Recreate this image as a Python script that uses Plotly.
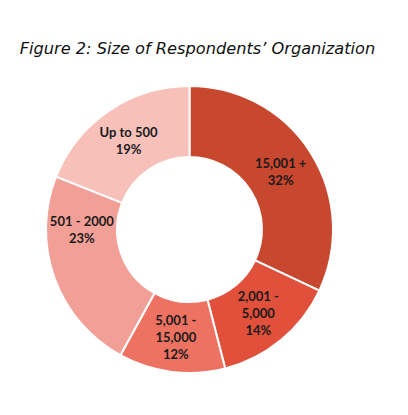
import plotly.graph_objects as go

categories = ["15,001 +", "2,001 - 5,000", "5,001 - 15,000", "501 - 2000", "Up to 500"]
display_labels = ["15,001 +", "2,001 -<br>5,000", "5,001 -<br>15,000", "501 - 2000", "Up to 500"]
values = [32, 14, 12, 23, 19]
colors = ["#C8472F", "#E0503A", "#EE7262", "#F2A097", "#F7C1BA"]

W, H = 408, 415
off = 8  # page body margin offset
cx, cy, r = 189.5 - off, 229.5 - off, 143.5

fig = go.Figure(go.Pie(
    labels=categories,
    values=values,
    text=display_labels,
    texttemplate="%{text}<br>%{value}%",
    textinfo="text",
    textposition="inside",
    insidetextorientation="horizontal",
    hole=0.505,
    sort=False,
    direction="clockwise",
    rotation=0,
    marker=dict(colors=colors, line=dict(color="white", width=2)),
    textfont=dict(family="Lato, Open Sans, sans-serif", size=13, color="#1a1a1a", weight="bold"),
    domain=dict(x=[(cx - r) / W, (cx + r) / W], y=[(H - cy - r) / H, (H - cy + r) / H]),
    showlegend=False,
))

fig.update_layout(
    width=W, height=H,
    margin=dict(l=0, r=0, t=0, b=0),
    paper_bgcolor="white",
    title=dict(
        text="Figure 2: Size of Respondents’ Organization",
        x=(197.5 - off) / W, xanchor="center", y=1 - (48 - off) / H, yanchor="middle",
        font=dict(family="DejaVu Sans, Verdana, sans-serif", size=16.2, color="#111", style="italic"),
    ),
)

fig.write_html("out.html")
